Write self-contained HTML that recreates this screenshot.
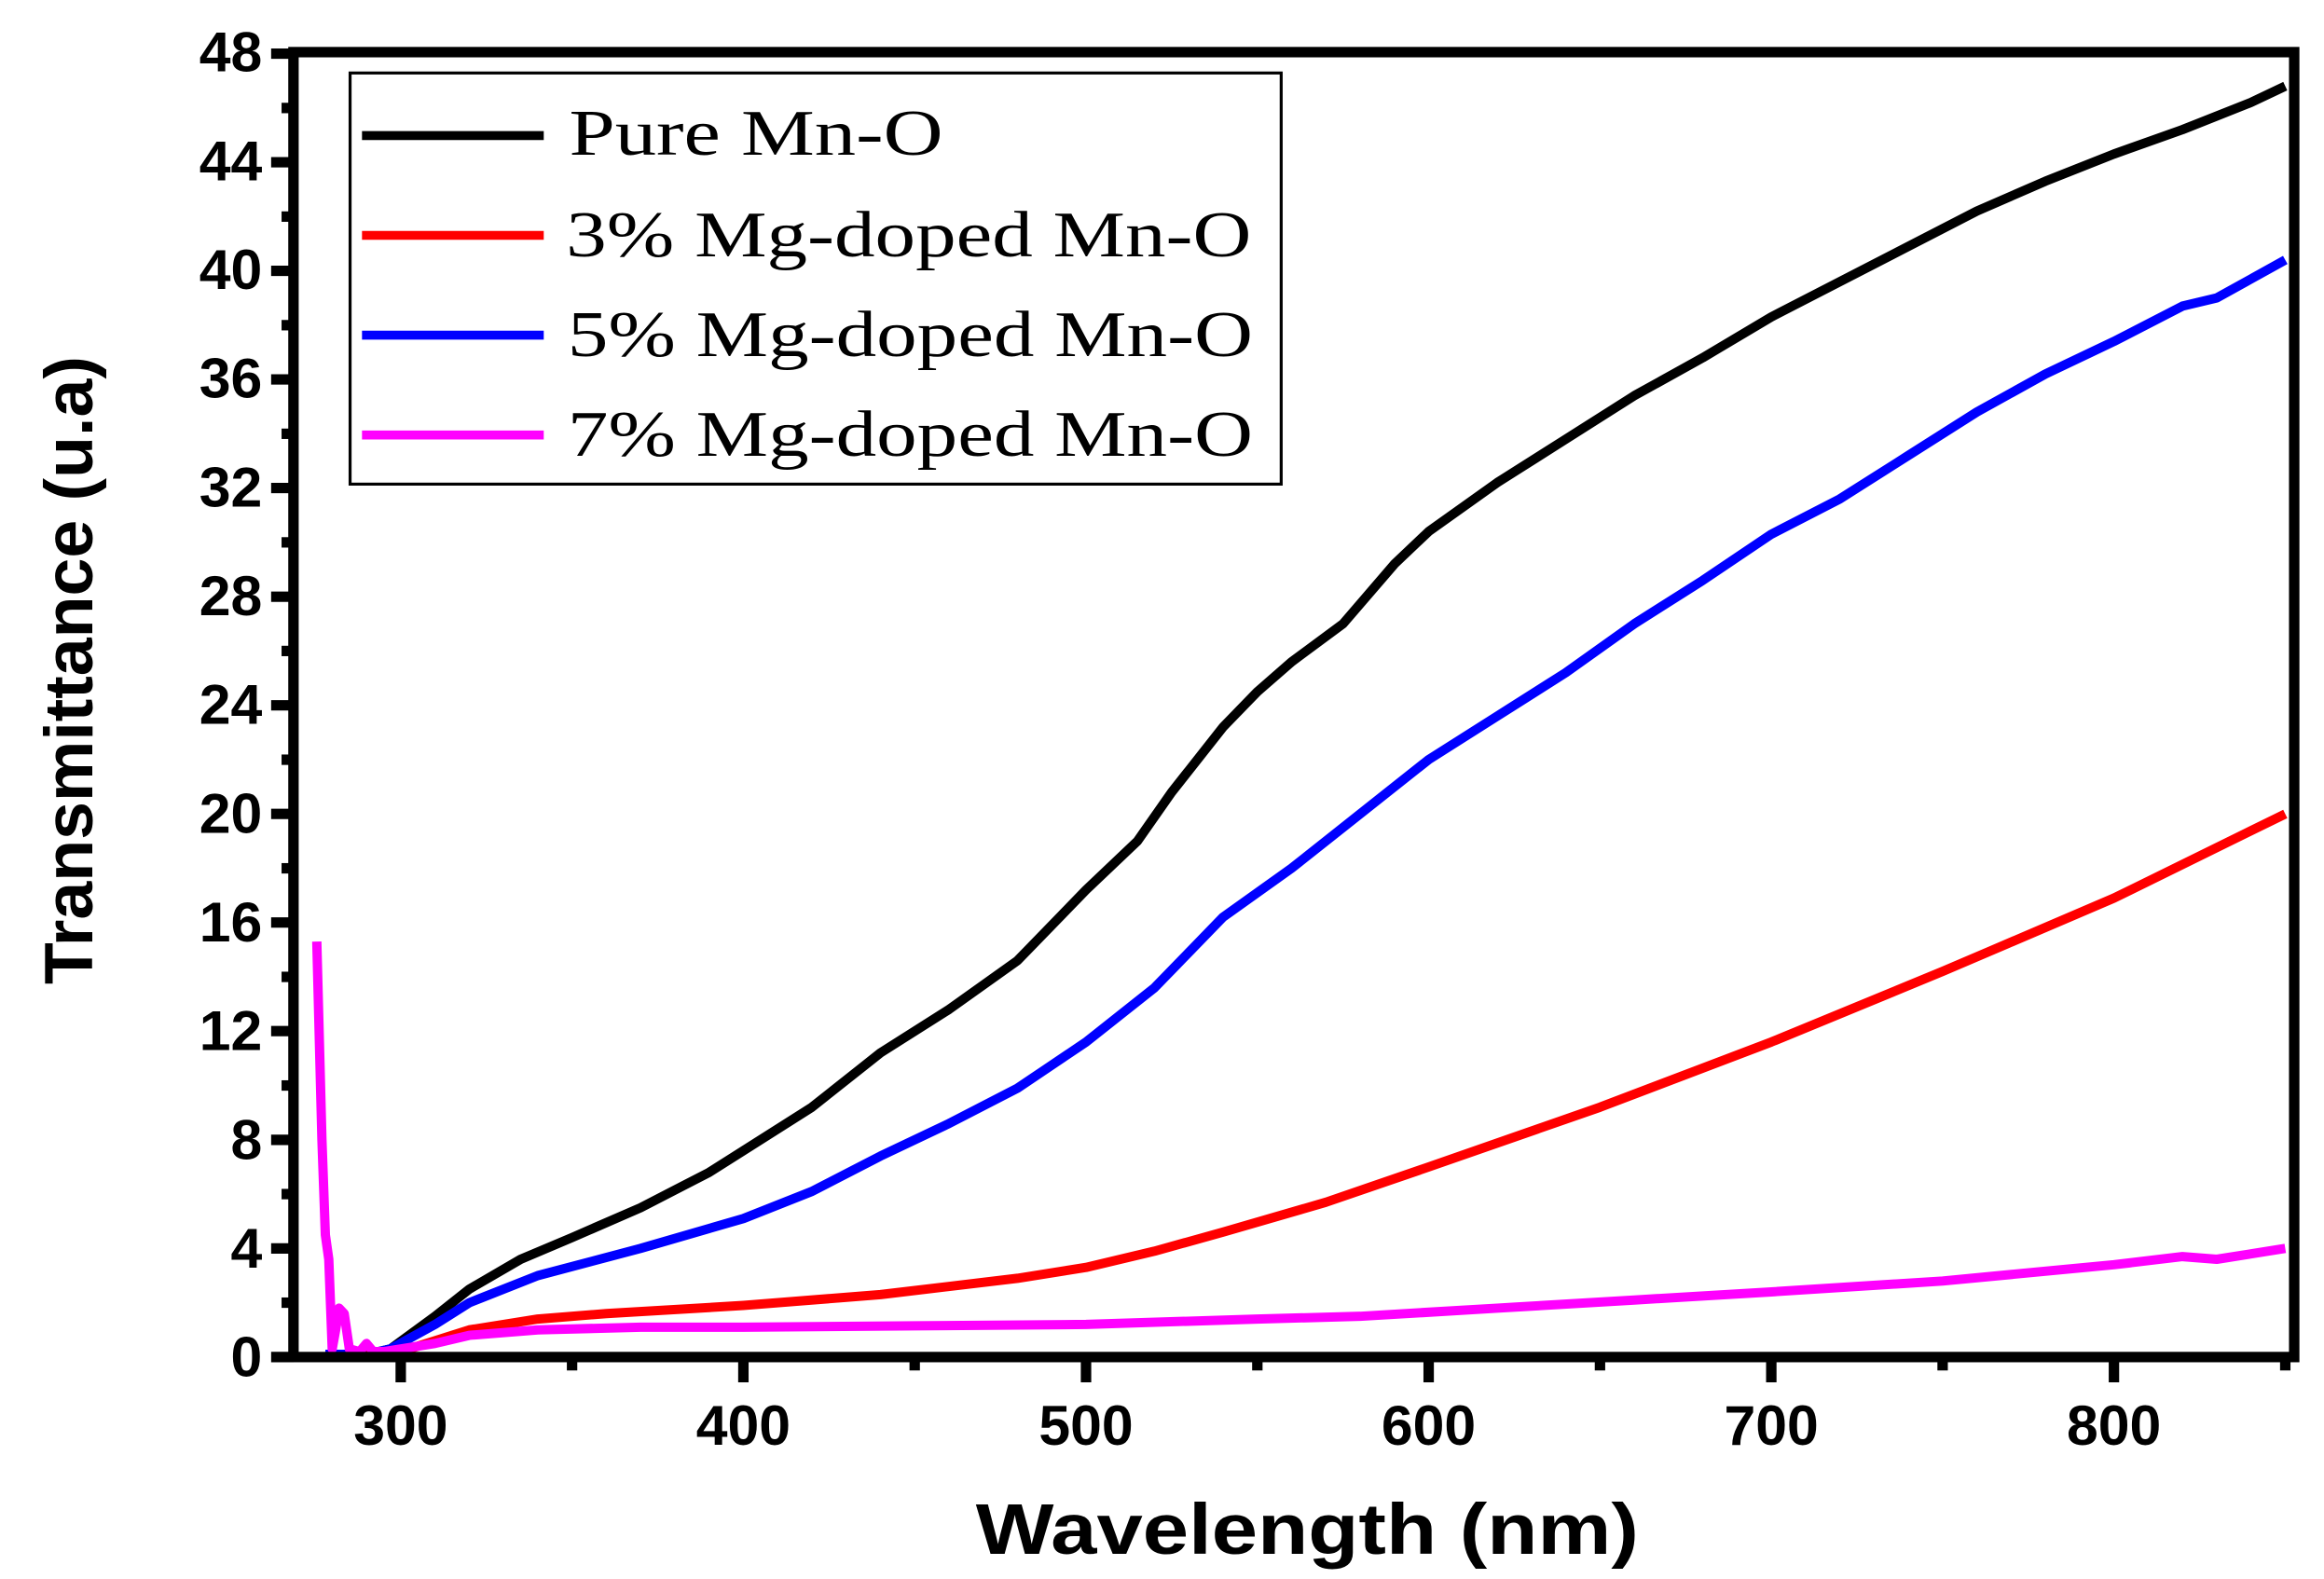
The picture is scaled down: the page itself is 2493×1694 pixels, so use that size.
<!DOCTYPE html>
<html><head><meta charset="utf-8"><style>
html,body{margin:0;padding:0;background:#fff;}
svg{display:block;}
</style></head><body>
<svg width="2493" height="1694" viewBox="0 0 1560 1060" preserveAspectRatio="none" xmlns="http://www.w3.org/2000/svg">
<rect width="1560" height="1060" fill="#fff"/>
<defs><clipPath id="c"><rect x="200" y="38" width="1337" height="873"/></clipPath></defs>
<g clip-path="url(#c)">
<g transform="translate(-421,911) scale(2.3,-18.23)" fill="none" stroke-linejoin="round">
<polyline vector-effect="non-scaling-stroke" stroke="#000" stroke-width="10" points="280,0 290,0.1 297,0.3 310,1.5 320,2.5 335,3.6 350,4.4 370,5.5 390,6.8 400,7.6 420,9.2 440,11.2 460,12.8 480,14.6 500,17.2 515,19.0 525,20.8 540,23.2 550,24.5 560,25.6 575,27.0 590,29.2 600,30.4 620,32.2 640,33.8 660,35.4 680,36.8 700,38.3 720,39.6 740,40.9 760,42.2 780,43.3 800,44.3 820,45.2 840,46.2 850,46.8"/>
<polyline vector-effect="non-scaling-stroke" stroke="#0000ff" stroke-width="10" points="278,0.1 290,0.1 297,0.3 310,1.2 320,2.0 340,3.0 370,4.0 400,5.1 420,6.1 440,7.4 460,8.6 480,9.9 500,11.6 520,13.6 540,16.2 560,18.0 580,20.0 600,22.0 620,23.6 640,25.2 660,27.0 680,28.6 700,30.3 720,31.6 740,33.2 760,34.8 780,36.2 800,37.4 820,38.7 830,39.0 850,40.4"/>
<polyline vector-effect="non-scaling-stroke" stroke="#ff0000" stroke-width="10" points="290,0.05 300,0.2 320,1.0 340,1.4 360,1.6 400,1.9 440,2.3 480,2.9 500,3.3 520,3.9 540,4.6 570,5.7 600,7.0 650,9.2 700,11.6 750,14.2 800,16.9 850,20.0"/>
<polyline vector-effect="non-scaling-stroke" stroke="#ff00ff" stroke-width="10" points="275.5,15.3 277,8 278,4.5 279,3.6 280,0.3 281,1.0 282,1.8 283.5,1.6 285,0.3 288,0.2 290,0.5 292,0.2 295,0.2 300,0.3 310,0.5 320,0.8 340,1.0 370,1.1 400,1.1 450,1.15 500,1.2 550,1.4 580,1.5 620,1.8 660,2.1 700,2.4 750,2.8 800,3.4 820,3.7 830,3.6 850,4.0"/>
</g>
</g>
<g stroke="#000" fill="none">
<rect x="197" y="35" width="1343" height="876" stroke-width="7"/>
</g>
<g stroke="#000" stroke-width="7">
<line x1="182" y1="911" x2="197" y2="911"/><line x1="182" y1="838.1" x2="197" y2="838.1"/><line x1="182" y1="765.2" x2="197" y2="765.2"/><line x1="182" y1="692.2" x2="197" y2="692.2"/><line x1="182" y1="619.3" x2="197" y2="619.3"/><line x1="182" y1="546.4" x2="197" y2="546.4"/><line x1="182" y1="473.5" x2="197" y2="473.5"/><line x1="182" y1="400.6" x2="197" y2="400.6"/><line x1="182" y1="327.6" x2="197" y2="327.6"/><line x1="182" y1="254.7" x2="197" y2="254.7"/><line x1="182" y1="181.8" x2="197" y2="181.8"/><line x1="182" y1="108.9" x2="197" y2="108.9"/><line x1="182" y1="36" x2="197" y2="36"/>
<line x1="189" y1="874.5" x2="197" y2="874.5"/><line x1="189" y1="801.6" x2="197" y2="801.6"/><line x1="189" y1="728.7" x2="197" y2="728.7"/><line x1="189" y1="655.8" x2="197" y2="655.8"/><line x1="189" y1="582.9" x2="197" y2="582.9"/><line x1="189" y1="510" x2="197" y2="510"/><line x1="189" y1="437" x2="197" y2="437"/><line x1="189" y1="364.1" x2="197" y2="364.1"/><line x1="189" y1="291.2" x2="197" y2="291.2"/><line x1="189" y1="218.3" x2="197" y2="218.3"/><line x1="189" y1="145.4" x2="197" y2="145.4"/><line x1="189" y1="72.5" x2="197" y2="72.5"/>
</g>
<g stroke="#000" stroke-width="7">
<line x1="269" y1="911" x2="269" y2="928"/><line x1="499" y1="911" x2="499" y2="928"/><line x1="729" y1="911" x2="729" y2="928"/><line x1="959" y1="911" x2="959" y2="928"/><line x1="1189" y1="911" x2="1189" y2="928"/><line x1="1419" y1="911" x2="1419" y2="928"/>
<line x1="384" y1="911" x2="384" y2="920"/><line x1="614" y1="911" x2="614" y2="920"/><line x1="844" y1="911" x2="844" y2="920"/><line x1="1074" y1="911" x2="1074" y2="920"/><line x1="1304" y1="911" x2="1304" y2="920"/><line x1="1534" y1="911" x2="1534" y2="920"/>
</g>
<g font-family="Liberation Sans, Arial, sans-serif" font-weight="bold" font-size="38" fill="#000" text-anchor="end">
<text x="176" y="924">0</text><text x="176" y="851">4</text><text x="176" y="778">8</text><text x="176" y="705">12</text><text x="176" y="632">16</text><text x="176" y="559">20</text><text x="176" y="486">24</text><text x="176" y="413">28</text><text x="176" y="340">32</text><text x="176" y="267">36</text><text x="176" y="194">40</text><text x="176" y="121">44</text><text x="176" y="48">48</text>
</g>
<g font-family="Liberation Sans, Arial, sans-serif" font-weight="bold" font-size="38" fill="#000" text-anchor="middle">
<text x="269" y="970">300</text><text x="499" y="970">400</text><text x="729" y="970">500</text><text x="959" y="970">600</text><text x="1189" y="970">700</text><text x="1419" y="970">800</text>
</g>
<text x="655" y="1043" font-family="Liberation Sans, Arial, sans-serif" font-weight="bold" font-size="48" textLength="445" lengthAdjust="spacingAndGlyphs">Wavelength (nm)</text>
<text transform="translate(62,450) rotate(-90)" font-family="Liberation Sans, Arial, sans-serif" font-weight="bold" font-size="46" text-anchor="middle">Transmittance (u.a)</text>
<rect x="235" y="49" width="625" height="276" fill="#fff" stroke="#000" stroke-width="2"/>
<g stroke-width="6">
<line x1="243" y1="91" x2="365" y2="91" stroke="#000"/>
<line x1="243" y1="158" x2="365" y2="158" stroke="#ff0000"/>
<line x1="243" y1="225" x2="365" y2="225" stroke="#0000ff"/>
<line x1="243" y1="292" x2="365" y2="292" stroke="#ff00ff"/>
</g>
<g font-family="Liberation Serif, Times New Roman, serif" font-size="44" fill="#000">
<text x="382" y="104" textLength="251" lengthAdjust="spacingAndGlyphs">Pure Mn-O</text>
<text x="380" y="172" textLength="460" lengthAdjust="spacingAndGlyphs">3% Mg-doped Mn-O</text>
<text x="381" y="239" textLength="460" lengthAdjust="spacingAndGlyphs">5% Mg-doped Mn-O</text>
<text x="381" y="306" textLength="460" lengthAdjust="spacingAndGlyphs">7% Mg-doped Mn-O</text>
</g>
</svg>
</body></html>
